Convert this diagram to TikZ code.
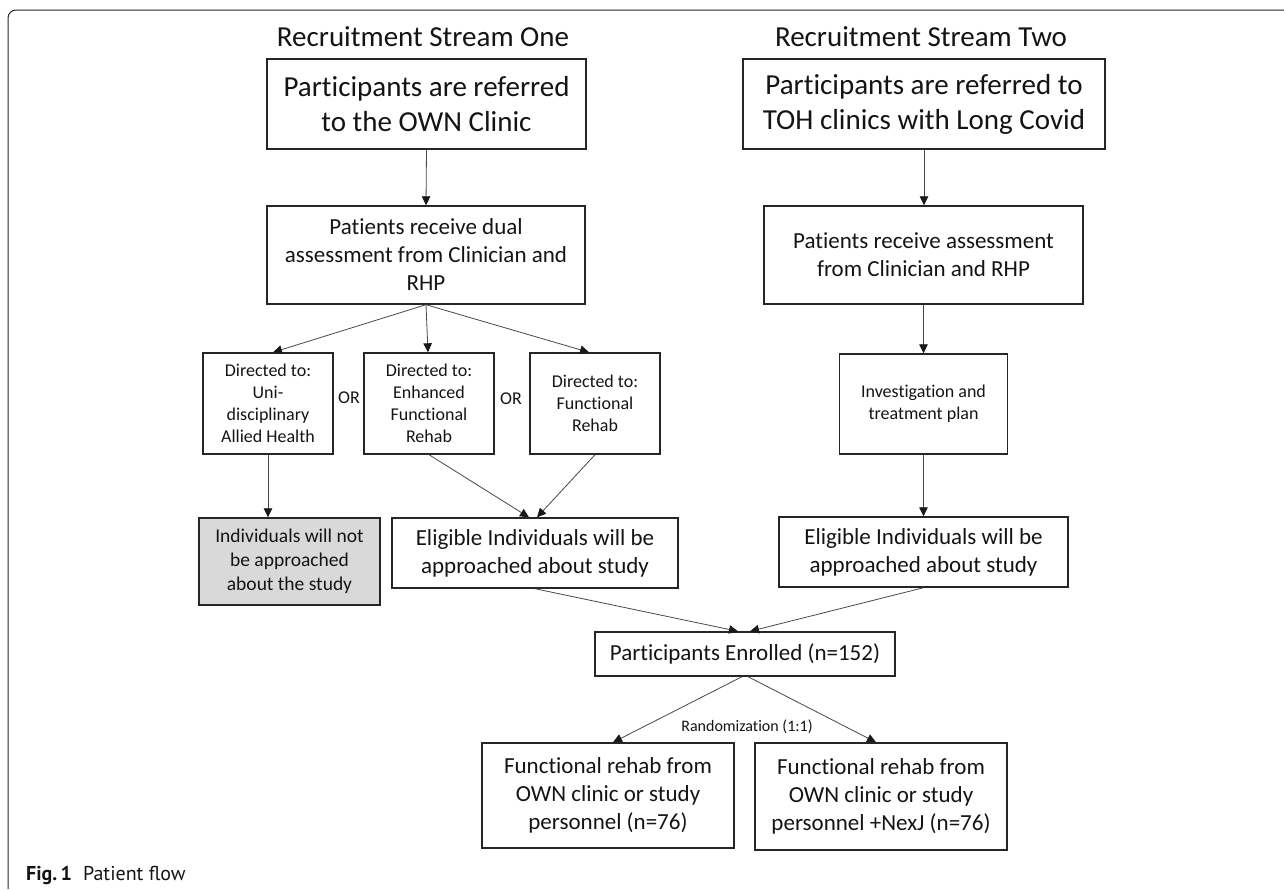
\documentclass[tikz,border=0pt]{standalone}
\usepackage{fontspec}
\setmainfont{Carlito}[Ligatures=NoCommon]
\newfontfamily\capfont{PT Sans}
\usetikzlibrary{arrows.meta}
\newcommand\fsz[2]{\fontsize{#1}{#2}\selectfont}
\begin{document}
\begin{tikzpicture}[x=1pt,y=-1pt,
  box/.style={draw=black!85,line width=1.4pt,align=center,inner sep=0pt,text=black!92},
  conn/.style={draw=black!72,line width=0.8pt,-{Triangle[length=9pt,width=8.5pt,color=black!90]}},
  big/.style={font=\fsz{29}{35}},
  mid/.style={font=\fsz{23}{28}},
  sml/.style={font=\fsz{18}{22}},
  lbl/.style={inner sep=0pt,text=black!92},
]
\useasboundingbox (0,0) rectangle (1284,889);
% frame
\draw[line width=1pt,black!85,rounded corners=8pt] (8,889) -- (8,10) -- (1284,10);

% titles
\node[lbl,big,anchor=base] (t1) at (423,46) {Recruitment Stream One};
\node[lbl,big,anchor=base] (t2) at (921,46) {Recruitment Stream Two};

% stream one
\node[box,big,minimum width=319,minimum height=90] (A1) at (426.5,104) {Participants are referred\\to the OWN Clinic};
\node[box,mid,minimum width=318,minimum height=98] (A2) at (426,255) {Patients receive dual\\assessment from Clinician and\\RHP};
\node[box,sml,minimum width=130,minimum height=101] (U) at (268,403.5) {Directed to:\\Uni-\\disciplinary\\Allied Health};
\node[box,sml,minimum width=130,minimum height=101] (E) at (429,403.5) {Directed to:\\Enhanced\\Functional\\Rehab};
\node[box,sml,minimum width=130,minimum height=101] (F) at (595,403.5) {Directed to:\\Functional\\Rehab};
\node[lbl,sml] (or1) at (349,398) {OR};
\node[lbl,sml] (or2) at (511,399) {OR};
\node[box,font=\fsz{19.5}{24},fill=black!15,minimum width=181,minimum height=87] (G) at (289.5,561.5) {Individuals will not\\be approached\\about the study};
\node[box,mid,minimum width=286,minimum height=70] (L1) at (535,553) {Eligible Individuals will be\\approached about study};

% stream two
\node[box,big,minimum width=362,minimum height=90] (B1) at (924,104) {Participants are referred to\\TOH clinics with Long Covid};
\node[box,mid,minimum width=319,minimum height=98] (B2) at (923.5,255) {Patients receive assessment\\from Clinician and RHP};
\node[box,sml,minimum width=168,minimum height=100] (I) at (923.5,404) {Investigation and\\treatment plan};
\node[box,mid,minimum width=289,minimum height=70] (L2) at (923.5,552) {Eligible Individuals will be\\approached about study};

% common
\node[box,mid,minimum width=300,minimum height=44] (N) at (745,654) {Participants Enrolled (n=152)};
\node[box,mid,minimum width=252,minimum height=105] (C1) at (608,795.5) {Functional rehab from\\OWN clinic or study\\personnel (n=76)};
\node[box,mid,minimum width=252,minimum height=107] (C2) at (881,796.5) {Functional rehab from\\OWN clinic or study\\personnel +NexJ (n=76)};
\node[lbl,font=\fsz{16}{19}] (rnd) at (747,727) {Randomization (1:1)};

% caption
\node[lbl,anchor=base west,font=\capfont\fsz{20}{24}] (cap) at (26,880) {\textbf{Fig.\,1}\hspace{0.55em}Patient flow};

% connectors
\draw[conn] (A1.south) -- (A2.north);
\draw[conn] (A2.south) -- ([xshift=5pt]U.north);
\draw[conn] (A2.south) -- ([xshift=-1pt]E.north);
\draw[conn] (A2.south) -- ([xshift=-6pt]F.north);
\draw[conn] (U.south) -- (U.south |- G.north);
\draw[conn] (E.south) -- ([xshift=-6pt]L1.north);
\draw[conn] (F.south) -- ([xshift=2pt]L1.north);
\draw[conn] (B1.south) -- (B1.south |- B2.north);
\draw[conn] (B2.south) -- (I.north);
\draw[conn] (I.south) -- (L2.north);
\draw[conn] (L1.south) -- ([xshift=-7pt]N.north);
\draw[conn] (L2.south) -- ([xshift=5pt]N.north);
\draw[conn] ([xshift=-3pt]N.south) -- ([xshift=5pt]C1.north);
\draw[conn] ([xshift=3pt]N.south) -- ([xshift=-5pt]C2.north);
\end{tikzpicture}
\end{document}
